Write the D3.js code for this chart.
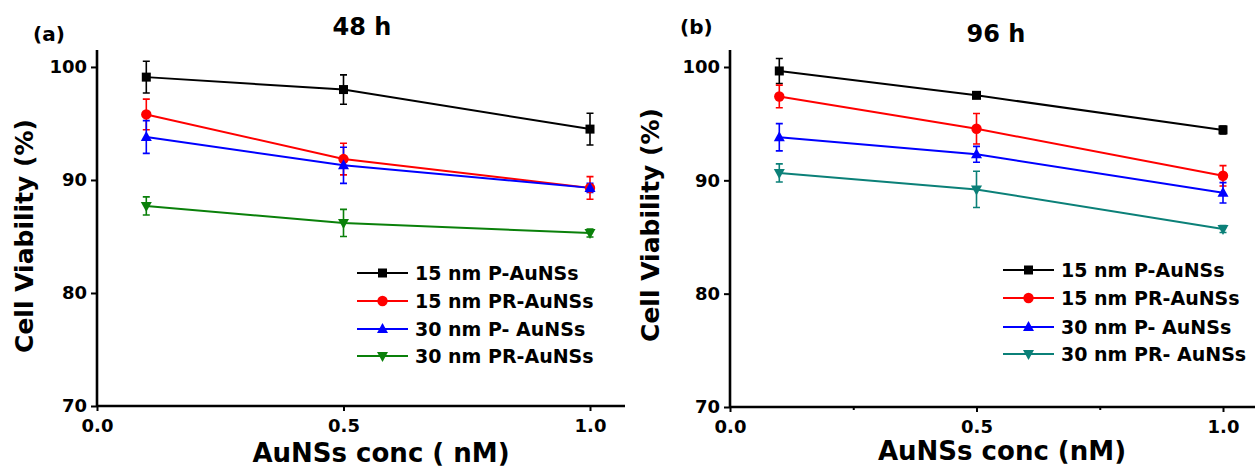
<!DOCTYPE html>
<html><head><meta charset="utf-8">
<script src="https://cdn.jsdelivr.net/npm/d3@7"></script>
<style>
body{margin:0;background:#fff;}
svg text{font-family:"DejaVu Sans",sans-serif;font-weight:bold;fill:#000;}
</style></head>
<body><svg id="c" width="1255" height="471"></svg>
<script>
// ---- data ----
const conc = [0.1, 0.5, 1.0];
const xTicks = [0.0, 0.5, 1.0];
const xMinorTicks96 = [0.25, 0.75];
const yTicks = [70, 80, 90, 100];

const seriesNames48 = ["15 nm P-AuNSs", "15 nm PR-AuNSs", "30 nm P- AuNSs", "30 nm PR-AuNSs"];
const seriesNames96 = ["15 nm P-AuNSs", "15 nm PR-AuNSs", "30 nm P- AuNSs", "30 nm PR- AuNSs"];

const p15_48 = [99.1, 98.0, 94.5];
const p15_48err = [1.4, 1.3, 1.4];
const pr15_48 = [95.8, 91.85, 89.3];
const pr15_48err = [1.35, 1.4, 1.0];
const p30_48 = [93.8, 91.3, 89.3];
const p30_48err = [1.45, 1.6, 0.4];
const pr30_48 = [87.7, 86.2, 85.3];
const pr30_48err = [0.8, 1.2, 0.35];

const p15_96 = [99.65, 97.5, 94.45];
const p15_96err = [1.1, 0.2, 0.35];
const pr15_96 = [97.4, 94.55, 90.4];
const pr15_96err = [1.0, 1.35, 0.9];
const p30_96 = [93.8, 92.3, 88.9];
const p30_96err = [1.2, 0.7, 0.9];
const pr30_96 = [90.65, 89.2, 85.7];
const pr30_96err = [0.8, 1.6, 0.3];

const colors48 = ["#000000", "#ff0000", "#0000ff", "#0a800a"];
const colors96 = ["#000000", "#ff0000", "#0000ff", "#0b8078"];
const symbols = ["square", "circle", "up", "down"];

const svg = d3.select("#c");

function marker(g, type, color, cx, cy) {
  if (type === "square") {
    g.append("rect").attr("x", cx - 4.5).attr("y", cy - 4.5).attr("width", 9).attr("height", 9).attr("fill", color);
  } else if (type === "circle") {
    g.append("circle").attr("cx", cx).attr("cy", cy).attr("r", 5.2).attr("fill", color);
  } else if (type === "up") {
    g.append("path").attr("d", `M${cx},${cy-6}L${cx+5.5},${cy+4}L${cx-5.5},${cy+4}Z`).attr("fill", color);
  } else {
    g.append("path").attr("d", `M${cx},${cy+6}L${cx+5.5},${cy-4}L${cx-5.5},${cy-4}Z`).attr("fill", color);
  }
}

function panel(cfg) {
  const g = svg.append("g");
  const x = d3.scaleLinear().domain([0, cfg.xMax]).range([cfg.x0, cfg.x1]);
  const y = d3.scaleLinear().domain([70, 101.5]).range([cfg.y0, 50]);

  // axes
  const ya = g.append("g").attr("transform", `translate(${cfg.x0},0)`)
    .call(d3.axisLeft(y).tickValues(yTicks).tickSize(6).tickPadding(4).tickFormat(d3.format("d")));
  const xa = g.append("g").attr("transform", `translate(0,${cfg.y0})`)
    .call(d3.axisBottom(x).tickValues(xTicks).tickSize(5).tickPadding(4).tickFormat(d3.format(".1f")));
  [ya, xa].forEach(a => {
    a.select(".domain").attr("stroke", "#000").attr("stroke-width", 2.6);
    a.selectAll(".tick line").attr("stroke", "#000").attr("stroke-width", 2);
    a.selectAll("text").style("font-size", "18px").style("font-family", "DejaVu Sans").style("font-weight", "bold").attr("fill", "#000");
  });
  xa.select(".domain").attr("d", `M${cfg.x0},0H${cfg.x1}`);
  ya.select(".domain").attr("d", `M0,${cfg.y0}V50`);
  xa.selectAll(".tick text").attr("dy", "0.95em");
  if (cfg.minor) {
    g.append("g").attr("transform", `translate(0,${cfg.y0})`)
      .call(d3.axisBottom(x).tickValues(cfg.minor).tickSize(3).tickFormat(""))
      .call(a => { a.select(".domain").remove(); a.selectAll("line").attr("stroke", "#000").attr("stroke-width", 2); });
  }

  // series
  cfg.series.forEach((s, i) => {
    const col = cfg.colors[i];
    const line = d3.line().x((d, j) => x(conc[j])).y(d => y(d));
    g.append("path").attr("d", line(s.v)).attr("fill", "none").attr("stroke", col).attr("stroke-width", 2);
    s.v.forEach((v, j) => {
      const cx = x(conc[j]);
      const t = y(v + s.e[j]), b = y(v - s.e[j]);
      g.append("path").attr("d", `M${cx},${t}V${b}M${cx-3.5},${t}H${cx+3.5}M${cx-3.5},${b}H${cx+3.5}`)
        .attr("stroke", col).attr("stroke-width", 1.6).attr("fill", "none");
    });
  });
  cfg.series.forEach((s, i) => {
    s.v.forEach((v, j) => marker(g, symbols[i], cfg.colors[i], x(conc[j]), y(v)));
  });

  // legend
  cfg.names.forEach((n, i) => {
    const ly = cfg.legY[i];
    g.append("line").attr("x1", cfg.legX).attr("x2", cfg.legX + 51).attr("y1", ly).attr("y2", ly)
      .attr("stroke", cfg.colors[i]).attr("stroke-width", 2);
    marker(g, symbols[i], cfg.colors[i], cfg.legX + 25.5, ly);
    g.append("text").attr("x", cfg.legX + 58).attr("y", ly).attr("dy", "0.36em")
      .style("font-size", "19px").text(n);
  });

  // titles and labels
  g.append("text").attr("x", cfg.titleX).attr("y", cfg.titleY).attr("text-anchor", "middle")
    .style("font-size", "24px").text(cfg.title);
  g.append("text").attr("x", cfg.tagX).attr("y", cfg.tagY).style("font-size", "20px").text(cfg.tag);
  g.append("text").attr("x", cfg.xlabX).attr("y", cfg.xlabY).attr("text-anchor", "middle")
    .style("font-size", "26px").text(cfg.xlab);
  g.append("text").attr("transform", `translate(${cfg.ylabX},${cfg.ylabY}) rotate(-90)`)
    .attr("text-anchor", "middle").style("font-size", "25px").text("Cell Viability (%)");
}

panel({
  x0: 97, x1: 625, xMax: 528 / 493, y0: 406,
  series: [{v: p15_48, e: p15_48err}, {v: pr15_48, e: pr15_48err}, {v: p30_48, e: p30_48err}, {v: pr30_48, e: pr30_48err}],
  colors: colors48, names: seriesNames48,
  legX: 357, legY: [273, 301, 329, 356],
  title: "48 h", titleX: 362, titleY: 35,
  tag: "(a)", tagX: 33, tagY: 41,
  xlab: "AuNSs conc ( nM)", xlabX: 381, xlabY: 462,
  ylabX: 33, ylabY: 236
});
panel({
  x0: 730, x1: 1255, xMax: 525 / 493, y0: 407, minor: xMinorTicks96,
  series: [{v: p15_96, e: p15_96err}, {v: pr15_96, e: pr15_96err}, {v: p30_96, e: p30_96err}, {v: pr30_96, e: pr30_96err}],
  colors: colors96, names: seriesNames96,
  legX: 1003, legY: [270, 298, 327, 354],
  title: "96 h", titleX: 996, titleY: 42,
  tag: "(b)", tagX: 680, tagY: 34,
  xlab: "AuNSs conc (nM)", xlabX: 1002, xlabY: 460,
  ylabX: 659, ylabY: 225
});
</script></body></html>
